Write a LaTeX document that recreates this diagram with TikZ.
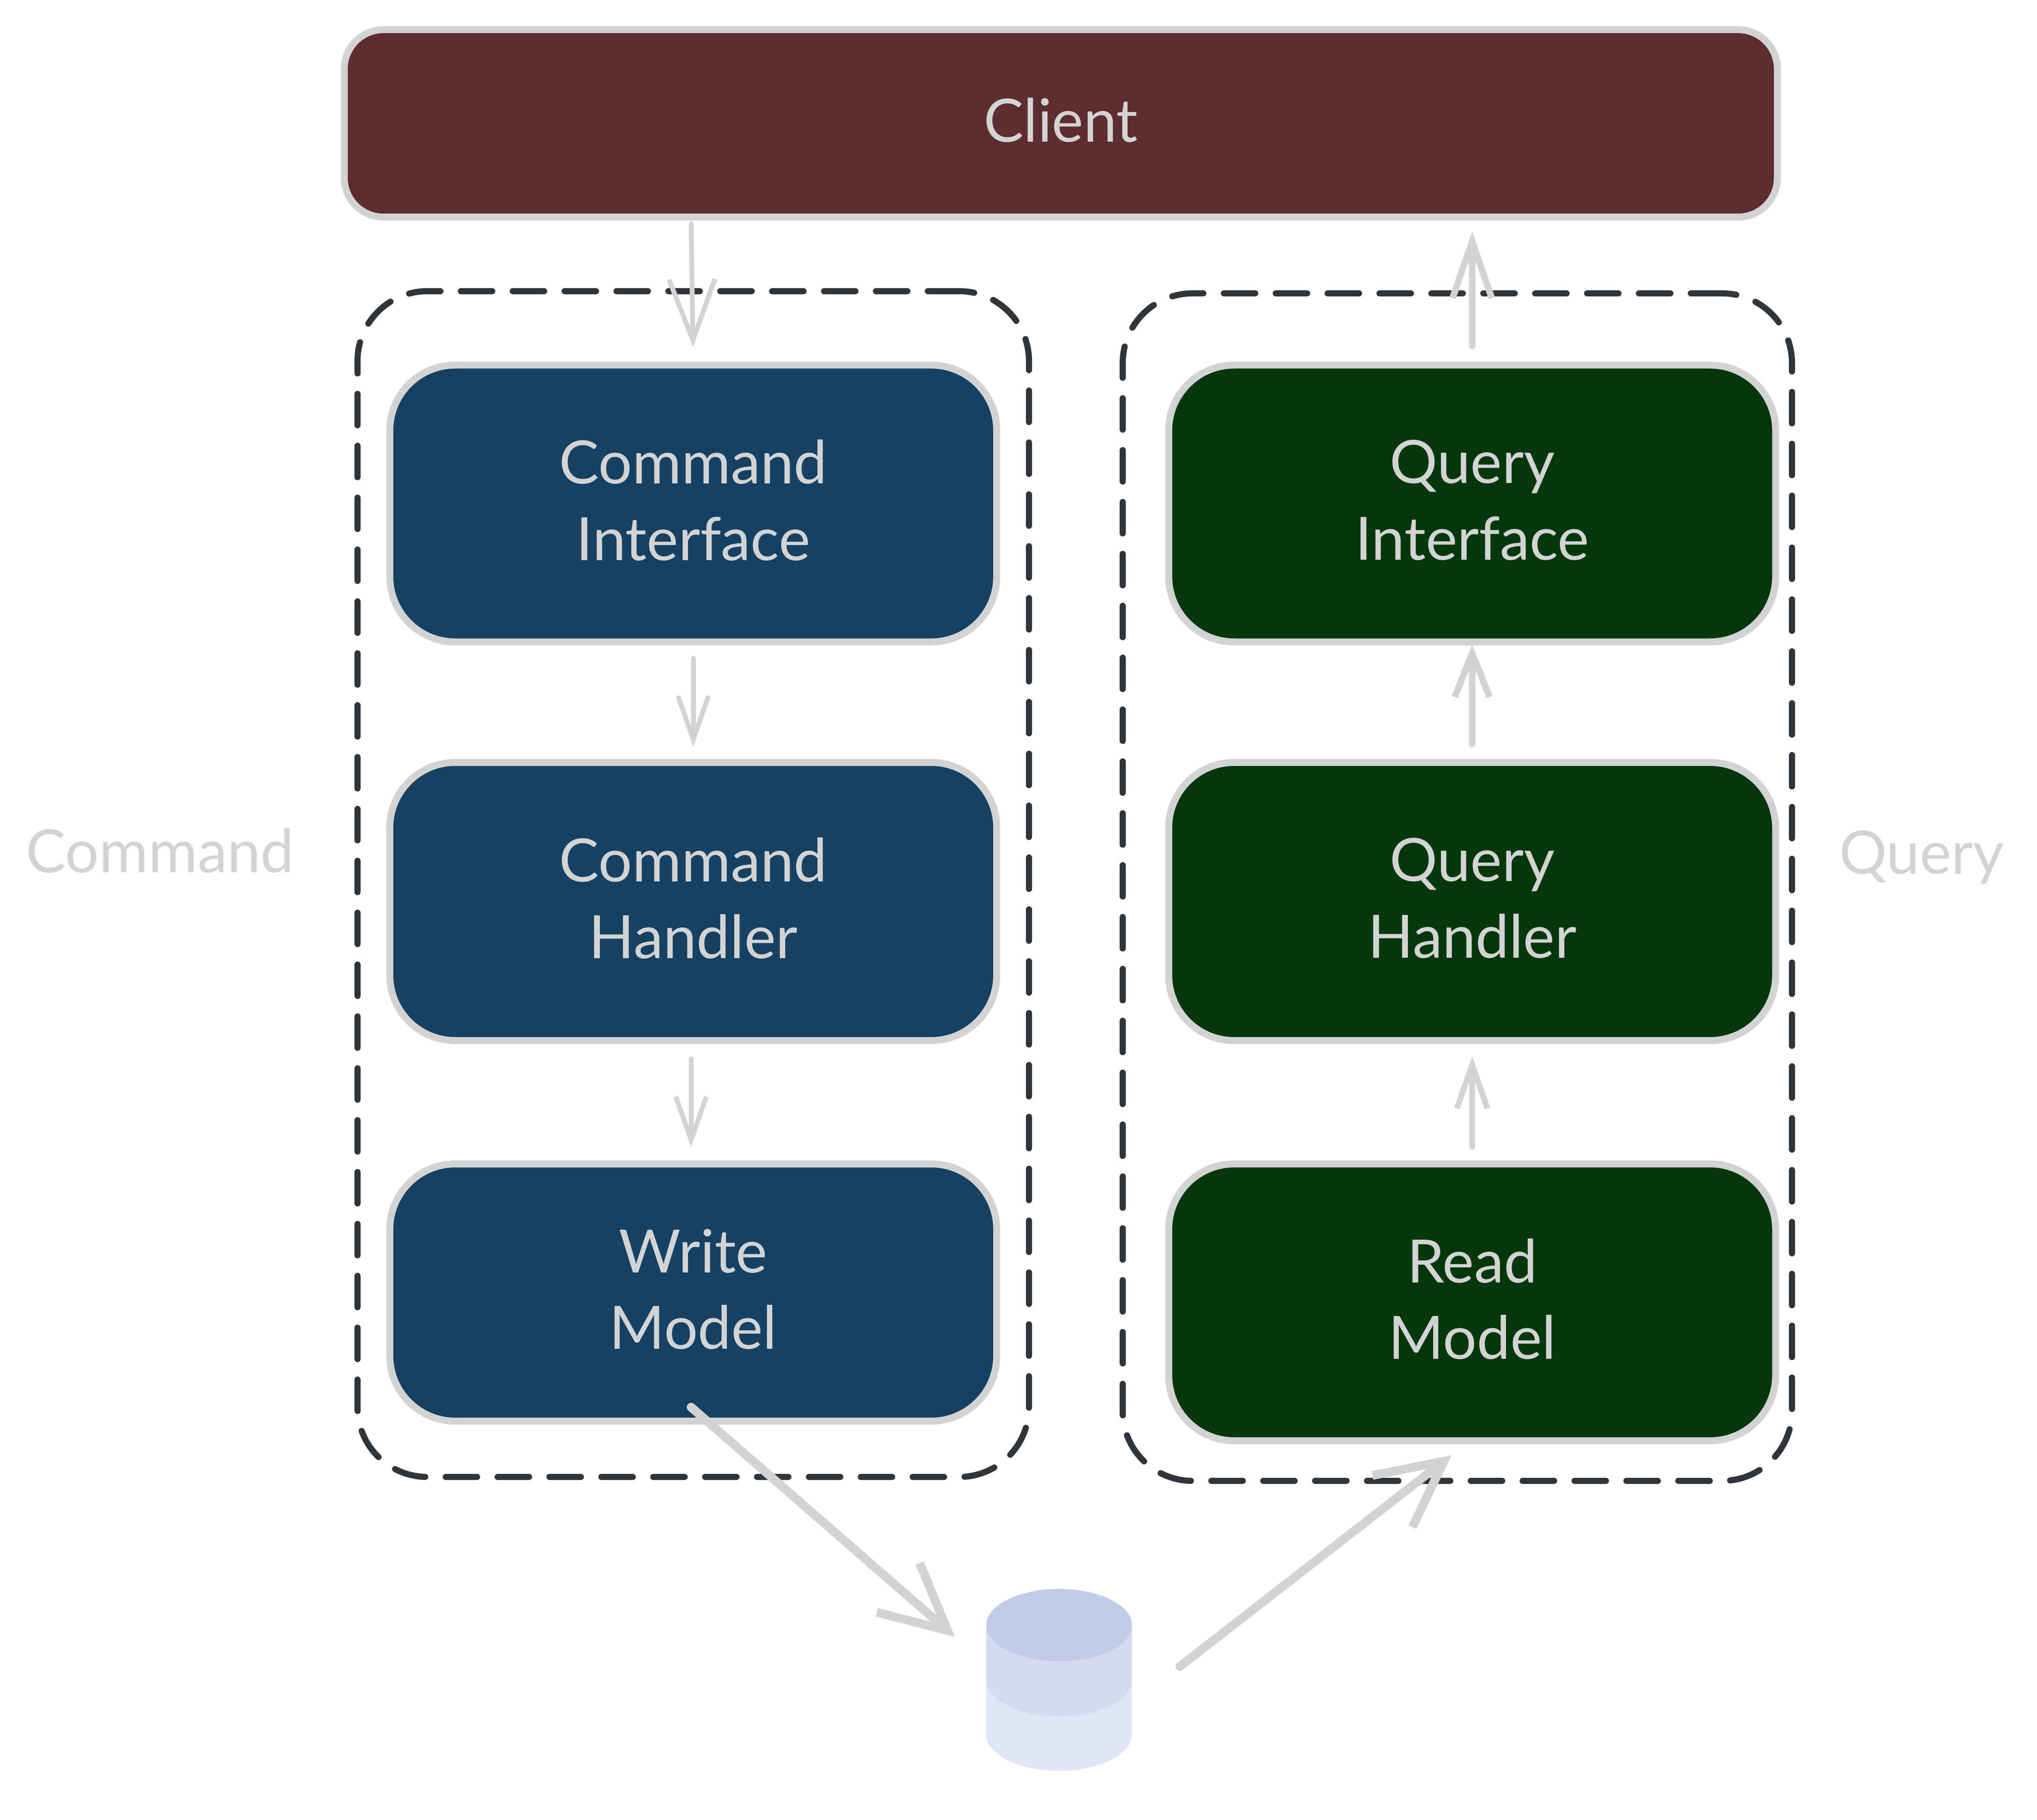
\documentclass[tikz,border=0pt]{standalone}
\usepackage{fontspec}
\setmainfont{Lato}
\usetikzlibrary{arrows.meta}

\definecolor{edgegrey}{HTML}{D3D3D3}
\definecolor{clientred}{HTML}{5C2C2E}
\definecolor{cmdblue}{HTML}{164162}
\definecolor{qrygreen}{HTML}{05370D}
\definecolor{groupdark}{HTML}{2F353A}
\definecolor{dbtop}{HTML}{C1CCEB}
\definecolor{dbmid}{HTML}{D5DAEF}
\definecolor{dbbase}{HTML}{DFE5F5}

\tikzset{
  hbox/.style={draw=edgegrey,line width=.16cm,rounded corners=1.5cm,text=edgegrey,align=center,minimum width=13.92cm,text depth=.16cm,inner sep=0pt,outer sep=0pt},
  group/.style={draw=groupdark,line width=.14cm,rounded corners=1.6cm,dash pattern=on .72cm off .47cm,line cap=round,inner sep=0pt,outer sep=0pt},
  flow/.style={draw=edgegrey,line cap=round,line width=#1},
  flow/.default=.11cm,
  side/.style={text=edgegrey}
}

\begin{document}
\begin{tikzpicture}[font=\fontsize{39}{50}\selectfont]

\useasboundingbox (0,0) rectangle (46.72,-41.75);

\node[group,minimum width=15.4cm,minimum height=27.2cm] (cmdgroup) at (15.9,-20.28) {};
\node[group,minimum width=15.35cm,minimum height=27.24cm] (qrygroup) at (33.425,-20.35) {};

\node[hbox,fill=clientred,rounded corners=.9cm,minimum width=32.87cm,minimum height=4.3cm] (client) at (24.33,-2.83) {Client};

\node[hbox,fill=cmdblue,minimum height=6.35cm] (cmdiface) at (15.9,-11.55) {Command\\Interface};
\node[hbox,fill=cmdblue,minimum height=6.38cm] (cmdhandler) at (15.9,-20.68) {Command\\Handler};
\node[hbox,fill=cmdblue,minimum height=5.9cm] (writemodel) at (15.9,-29.65) {Write\\Model};

\node[hbox,fill=qrygreen,minimum height=6.35cm] (qryiface) at (33.765,-11.55) {Query\\Interface};
\node[hbox,fill=qrygreen,minimum height=6.38cm] (qryhandler) at (33.765,-20.68) {Query\\Handler};
\node[hbox,fill=qrygreen,minimum height=6.35cm] (readmodel) at (33.765,-29.875) {Read\\Model};

\node[side] (cmdlabel) at (3.67,-19.52) {Command};
\node[side] (qrylabel) at (44.07,-19.67) {Query};

\fill[dbbase] (22.62,-37.28) -- (22.62,-39.79) arc[start angle=180,end angle=360,x radius=1.67,y radius=.83] -- (25.96,-37.28) -- cycle;
\fill[dbmid] (22.62,-37.28) -- (22.62,-38.54) arc[start angle=180,end angle=360,x radius=1.67,y radius=.83] -- (25.96,-37.28) -- cycle;
\fill[dbtop] (24.29,-37.28) ellipse[x radius=1.67,y radius=.83];

\coordinate (dbin) at (21.9,-37.55);
\coordinate (dbout) at (27.06,-38.23);

\draw[flow,-{Straight Barb[length=1.4cm,width=1.05cm]},shorten <=.15cm,shorten >=.41cm] ([xshift=-.05cm]client.south -| cmdiface.north) -- (cmdiface.north);
\draw[flow,-{Straight Barb[length=1cm,width=.7cm]},shorten <=.38cm,shorten >=.36cm] (cmdiface.south) -- (cmdhandler.north);
\draw[flow,-{Straight Barb[length=1cm,width=.7cm]},shorten <=.42cm,shorten >=.38cm] ([xshift=-.05cm]cmdhandler.south) -- ([xshift=-.05cm]writemodel.north);
\draw[flow=.2cm,-{Straight Barb[length=1.5cm,width=1.5cm]}] ([xshift=-.05cm,yshift=.32cm]writemodel.south) -- (dbin);

\draw[flow=.2cm,-{Straight Barb[length=1.5cm,width=1.5cm]}] (dbout) -- ([xshift=-.47cm,yshift=-.33cm]readmodel.south);
\draw[flow=.13cm,-{Straight Barb[length=1cm,width=.7cm]},shorten <=.39cm,shorten >=.36cm] (readmodel.north) -- (qryhandler.south);
\draw[flow=.15cm,-{Straight Barb[length=1cm,width=.8cm]},shorten <=.42cm,shorten >=.06cm] (qryhandler.north) -- (qryiface.south);
\draw[flow=.15cm,-{Straight Barb[length=1.3cm,width=.9cm]},shorten <=.44cm,shorten >=.33cm] (qryiface.north) -- (qryiface.north |- client.south);

\end{tikzpicture}
\end{document}
